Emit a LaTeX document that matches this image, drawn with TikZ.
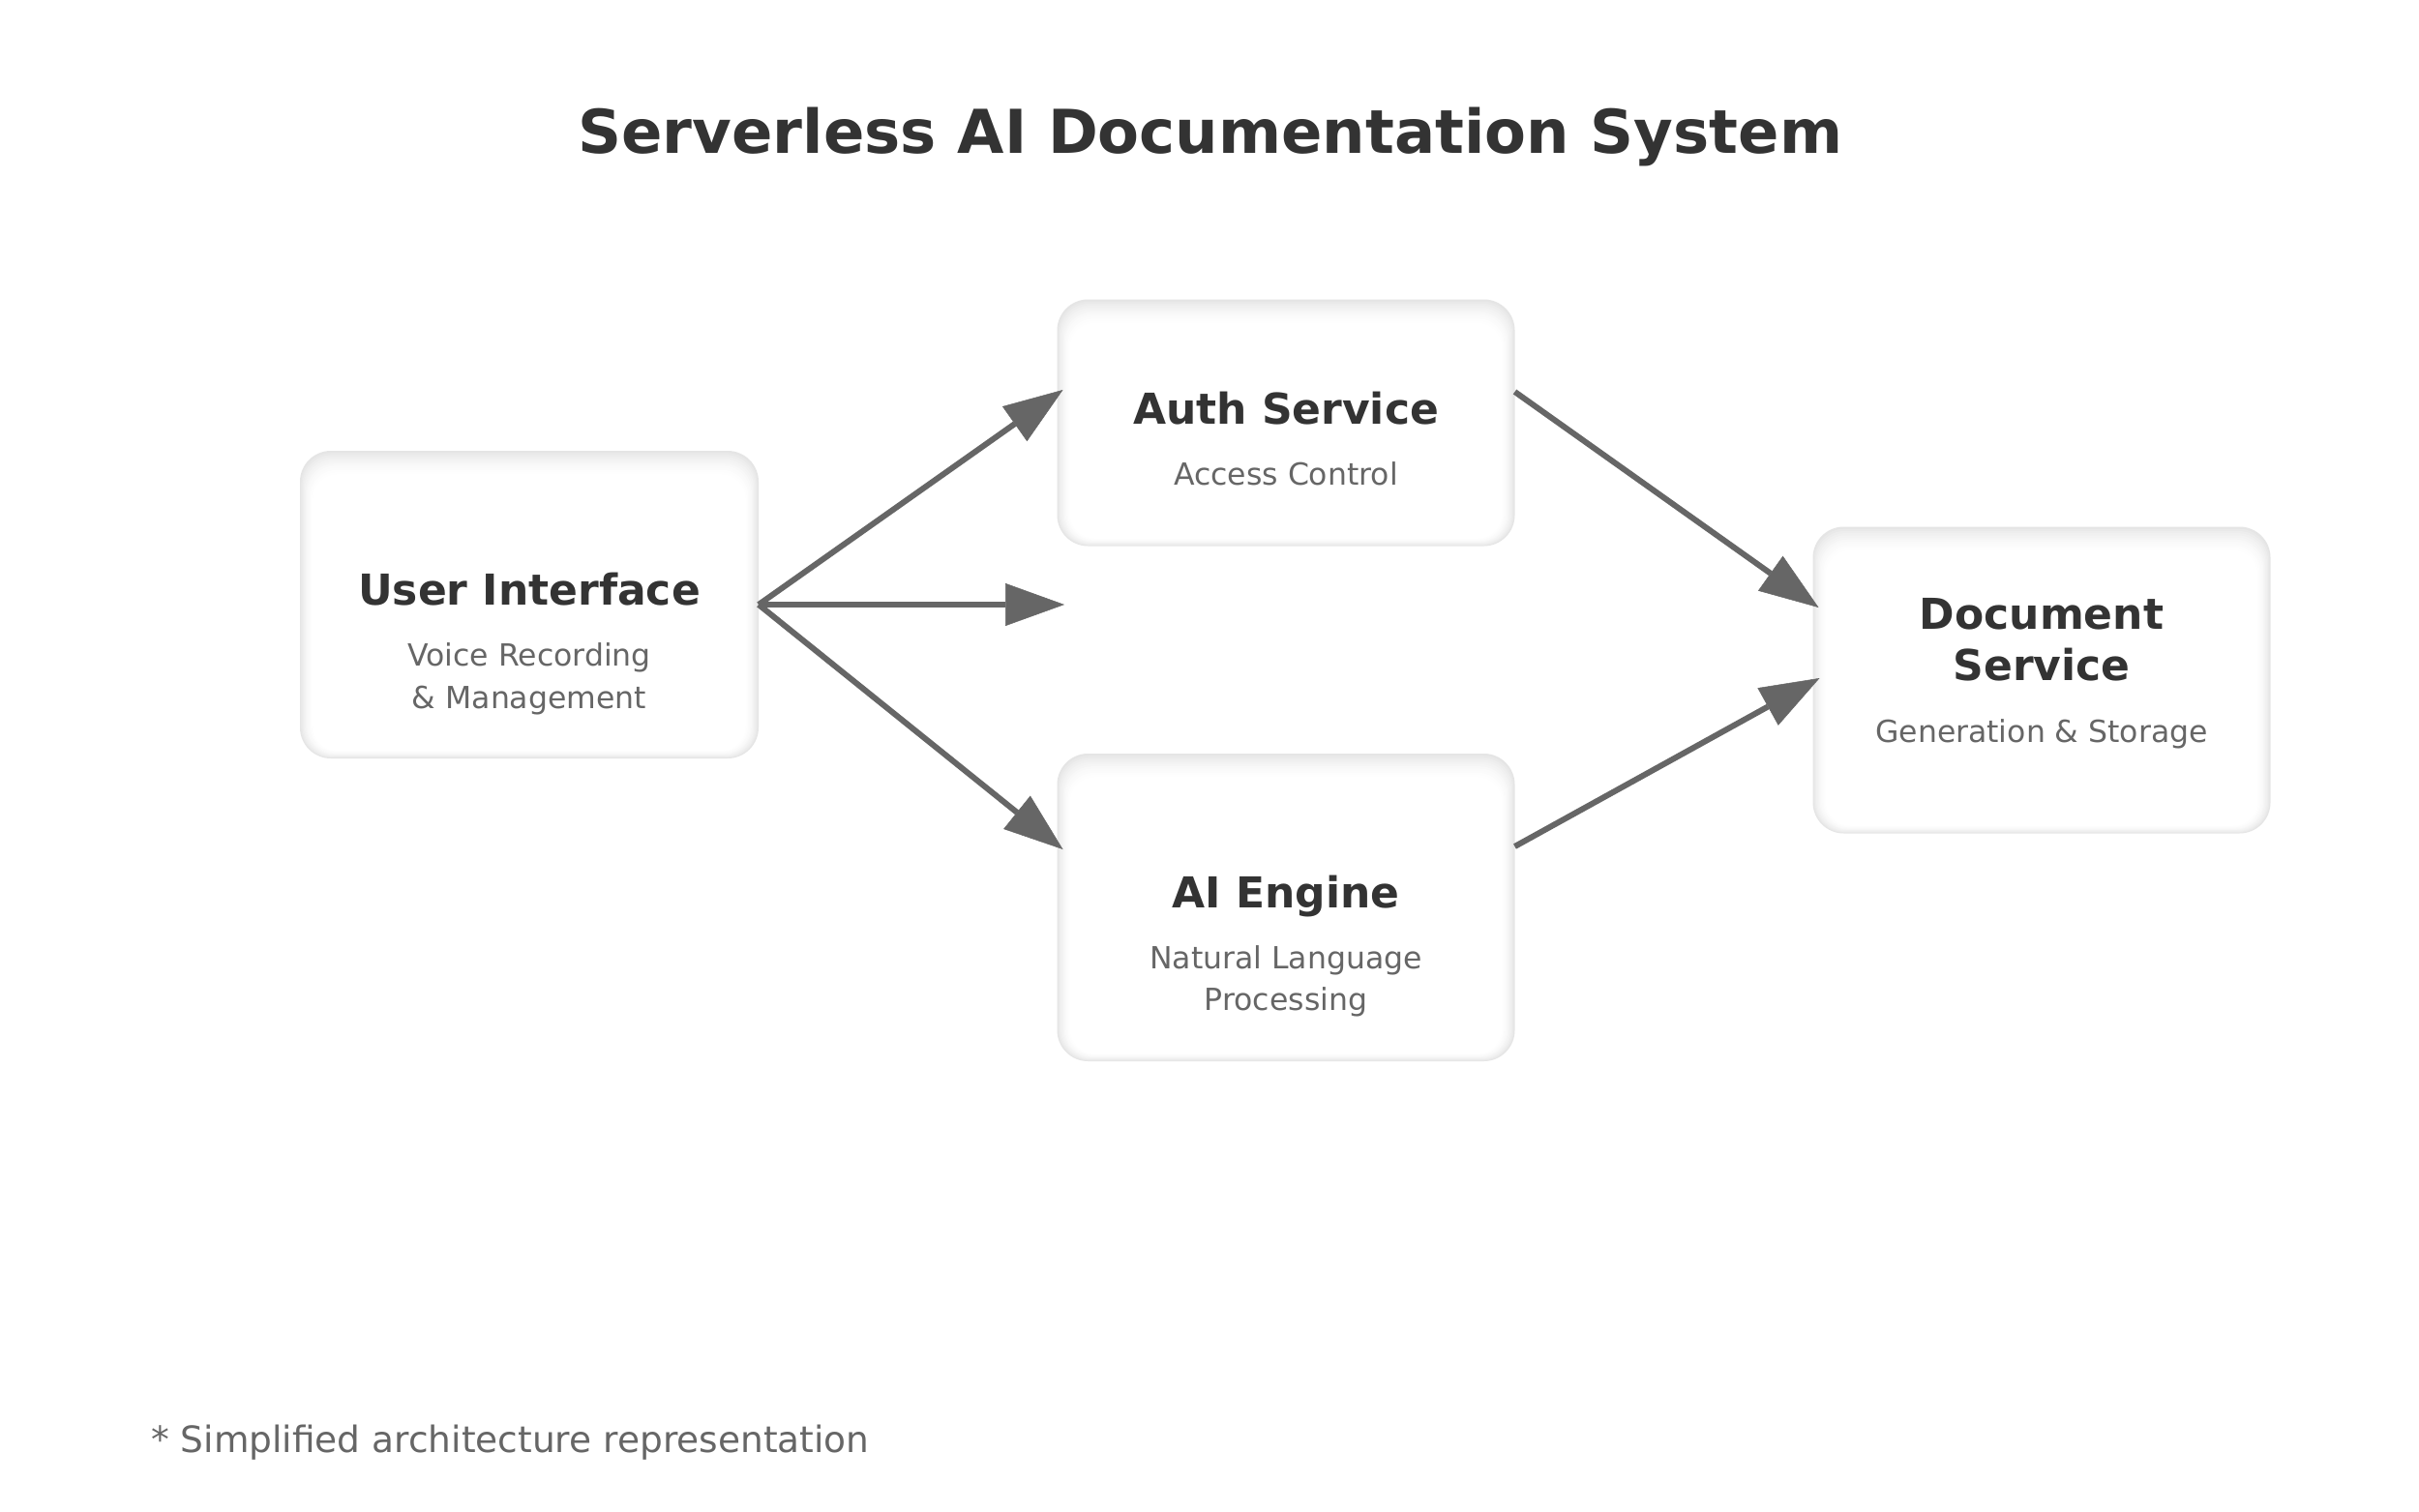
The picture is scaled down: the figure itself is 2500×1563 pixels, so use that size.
\documentclass[tikz,border=0pt]{standalone}
\usepackage{fontspec}
\setmainfont{DejaVu Sans}
\usetikzlibrary{arrows.meta}
\definecolor{titlec}{HTML}{333333}
\definecolor{subc}{HTML}{666666}
\definecolor{arrc}{HTML}{666666}
\newcommand\mycard[5]{%
  \foreach \i in {0,...,12}{%
    \pgfmathsetmacro\v{10*(1-\i/12)^1.8}%
    \pgfmathsetmacro\r{32-\i*0.6}%
    \fill[black!\v!white, rounded corners=\r pt]
      ({#2-#4/2+\i*1.2}, {#3-#5/2+\i*2.2}) rectangle ({#2+#4/2-\i*1.2}, {#3+#5/2-\i*0.7});
  }%
  \node[minimum width=#4pt, minimum height=#5pt, inner sep=0pt, outer sep=0pt] (#1) at (#2,#3) {};
}
\begin{document}
\begin{tikzpicture}[x=1pt, y=-1pt,
  ttl/.style={font=\bfseries\fontsize{44}{53}\selectfont, text=titlec, inner sep=0pt, anchor=base},
  sub/.style={font=\fontsize{31.5}{44}\selectfont, text=subc, inner sep=0pt, anchor=base},
  arr/.style={draw=arrc, line width=6pt, -{Triangle[length=61pt, width=44pt, line width=0.5pt]}}]
\fill[white] (0,0) rectangle (2500,1563);
\useasboundingbox (0,0) rectangle (2500,1563);

\node[font=\bfseries\fontsize{62.5}{75}\selectfont, text=titlec, inner sep=0pt, anchor=base] (title) at (1251,158) {Serverless AI Documentation System};

\mycard{ui}{547}{625}{474}{318}
\mycard{auth}{1329}{437}{473}{255}
\mycard{ai}{1329}{938}{473}{318}
\mycard{doc}{2110}{703}{473}{317}

\node[ttl] (uit) at (547,625) {User Interface};
\node[sub] (uis1) at (547,688) {Voice Recording};
\node[sub] (uis2) at (547,732) {\& Management};

\node[ttl] (autht) at (1329,438) {Auth Service};
\node[sub] (auths) at (1329,501) {Access Control};

\node[ttl] (ait) at (1329,938) {AI Engine};
\node[sub] (ais1) at (1329,1001) {Natural Language};
\node[sub] (ais2) at (1329,1044) {Processing};

\node[ttl] (doct1) at (2110,650) {Document};
\node[ttl] (doct2) at (2110,703) {Service};
\node[sub] (docs) at (2110,767) {Generation \& Storage};

\coordinate (mid) at (1100,625);
\draw[arr] (ui.east) -- ([xshift=6pt,yshift=34pt]auth.west);
\draw[arr] (ui.east) -- (mid);
\draw[arr] (ui.east) -- ([xshift=6pt,yshift=60pt]ai.west);
\draw[arr] ([yshift=32pt]auth.east) -- ([xshift=6pt,yshift=75pt]doc.west);
\draw[arr] ([yshift=63pt]ai.east) -- ([xshift=7pt,yshift=2pt]doc.west);

\node[font=\fontsize{37.5}{46}\selectfont, text=subc, inner sep=0pt, anchor=base west] (foot) at (156,1501) {* Simplified architecture representation};
\end{tikzpicture}
\end{document}
